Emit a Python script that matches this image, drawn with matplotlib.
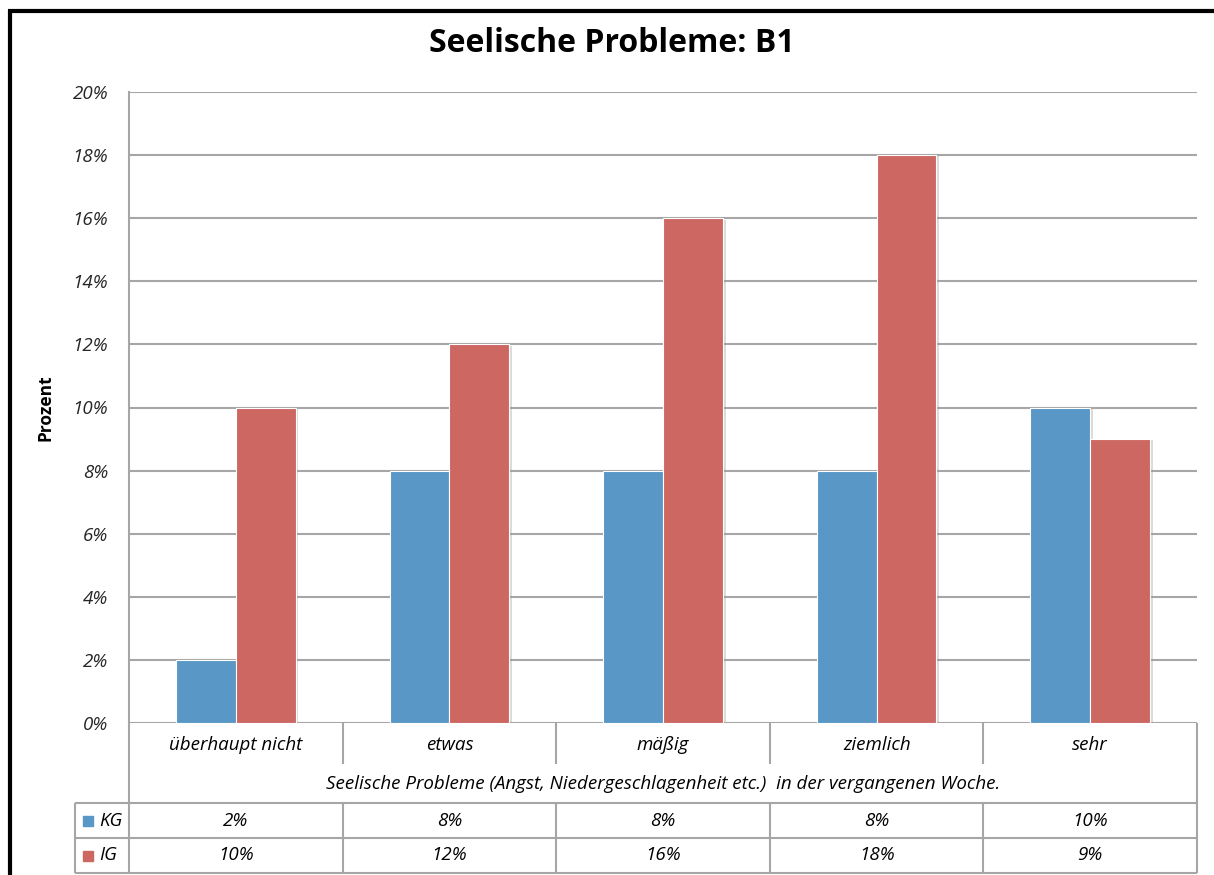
import matplotlib
matplotlib.use("Agg")
import matplotlib.pyplot as plt
from matplotlib.lines import Line2D
from matplotlib.patches import Rectangle
import matplotlib.patheffects as pe
import numpy as np

categories = ["überhaupt nicht", "etwas", "mäßig", "ziemlich", "sehr"]
kg_values = [2, 8, 8, 8, 10]
ig_values = [10, 12, 16, 18, 9]
series_names = ["KG", "IG"]
y_ticks = [0, 2, 4, 6, 8, 10, 12, 14, 16, 18, 20]

title = "Seelische Probleme: B1"
y_label = "Prozent"
x_title = "Seelische Probleme (Angst, Niedergeschlagenheit etc.)  in der vergangenen Woche."

BLUE = "#5897c6"
RED = "#cd6762"
GRID = "#a6a6a6"
TXT = "#262626"

W, H = 1214, 875
fig = plt.figure(figsize=(W / 100, H / 100), dpi=100)
fig.patch.set_facecolor("white")

FONT = "Open Sans"
FS = 13.5


def fx(x):
    return x / W


def fy(y):
    return 1 - y / H


def hline(y, x0, x1, color=GRID, lw=1.5):
    fig.add_artist(Line2D([fx(x0), fx(x1)], [fy(y), fy(y)], color=color, lw=lw,
                          transform=fig.transFigure, solid_capstyle="butt"))


def vline(x, y0, y1, color=GRID, lw=1.5):
    fig.add_artist(Line2D([fx(x), fx(x)], [fy(y0), fy(y1)], color=color, lw=lw,
                          transform=fig.transFigure, solid_capstyle="butt"))


# plot area
L, R, T, B = 129, 1197, 92, 723
ax = fig.add_axes([fx(L), fy(B), fx(R) - fx(L), fy(T) - fy(B)])
n = len(categories)
x = np.arange(n)
bw = 0.28
shadow = [pe.SimplePatchShadow(offset=(2, -1), shadow_rgbFace="#999999", alpha=0.35), pe.Normal()]
ax.bar(x - bw / 2, kg_values, bw, color=BLUE, edgecolor="white", linewidth=0.8,
       zorder=3, path_effects=shadow)
ax.bar(x + bw / 2, ig_values, bw, color=RED, edgecolor="white", linewidth=0.8,
       zorder=3, path_effects=shadow)
ax.set_xlim(-0.5, n - 0.5)
ax.set_ylim(0, 20)
ax.set_yticks(y_ticks)
ax.set_yticklabels([f"{t}%" for t in y_ticks], fontstyle="italic", fontsize=FS,
                   color=TXT, family=FONT)
ax.tick_params(axis="y", length=0, pad=15)
ax.set_xticks([])
for t in y_ticks:
    ax.axhline(t, color=GRID, lw=1.5, zorder=1)
for s in ax.spines.values():
    s.set_visible(False)
ax.spines["left"].set_visible(True)
ax.spines["left"].set_color(GRID)
ax.spines["left"].set_linewidth(1.5)

# title and y label
fig.text(fx(612), fy(44), title, ha="center", va="center", fontsize=23,
         fontweight="bold", family=FONT, color="black")
fig.text(fx(45), fy(408), y_label, ha="center", va="center", rotation=90,
         fontsize=12.5, fontweight="bold", family=FONT, color="black")

# data table below the plot
cw = (R - L) / n
row_kg = (803, 838)
row_ig = (838, 873)
LEG = 75

vline(L, B, row_ig[1])
vline(R, B, row_ig[1])
for i in range(1, n):
    vline(L + cw * i, B, 764)
    vline(L + cw * i, row_kg[0], row_ig[1])
hline(row_kg[0], LEG, R)
hline(row_ig[0], LEG, R)
hline(row_ig[1], LEG, R)
vline(LEG, row_kg[0], row_ig[1])

for i, c in enumerate(categories):
    cx = L + cw * (i + 0.5)
    fig.text(fx(cx), fy(745), c, ha="center", va="center", fontsize=FS,
             fontstyle="italic", family=FONT, color="black")
    fig.text(fx(cx), fy((row_kg[0] + row_kg[1]) / 2), f"{kg_values[i]}%", ha="center",
             va="center", fontsize=FS, fontstyle="italic", family=FONT, color="black")
    fig.text(fx(cx), fy((row_ig[0] + row_ig[1]) / 2), f"{ig_values[i]}%", ha="center",
             va="center", fontsize=FS, fontstyle="italic", family=FONT, color="black")

fig.text(fx((L + R) / 2), fy(784), x_title, ha="center", va="center", fontsize=FS,
         fontstyle="italic", family=FONT, color="black")

for (y0, y1), name, col in zip([row_kg, row_ig], series_names, [BLUE, RED]):
    yc = (y0 + y1) / 2
    fig.add_artist(Rectangle((fx(83), fy(yc + 5)), fx(10), fy(yc - 5) - fy(yc + 5),
                             transform=fig.transFigure, color=col))
    fig.text(fx(99), fy(yc), name, ha="left", va="center", fontsize=FS,
             fontstyle="italic", family=FONT, color="black")

# outer frame (top and left edges)
hline(11, 8, W, color="black", lw=3)
vline(9.5, 10, H, color="black", lw=3)

fig.savefig("out.png", dpi=100)
